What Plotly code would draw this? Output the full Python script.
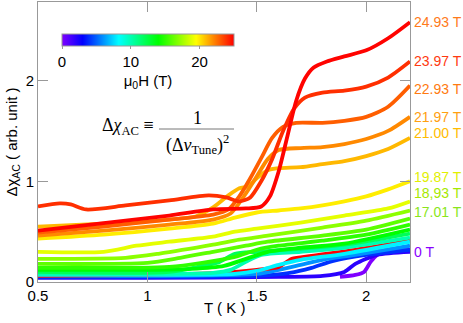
import plotly.graph_objects as go
from plotly.colors import sample_colorscale

# field of each curve (T) and its data
fields = [0.0, 2.0, 4.0, 6.0, 25.0, 8.0, 10.0, 12.0, 14.0, 15.0, 16.0,
          17.01, 18.93, 19.87, 21.00, 21.97, 22.93, 23.97, 24.93]

t_00 = [1.88, 1.95, 1.99, 2.02, 2.05, 2.10, 2.20]
x_00 = [0.05, 0.07, 0.10, 0.20, 0.27, 0.31, 0.32]
t_02 = [0.5, 1.0, 1.6, 1.8, 1.9, 1.95, 2.05, 2.2]
x_02 = [0.04, 0.04, 0.05, 0.06, 0.10, 0.18, 0.27, 0.30]
t_04 = [0.5, 1.0, 1.5, 1.65, 1.75, 1.85, 2.0, 2.2]
x_04 = [0.05, 0.05, 0.06, 0.09, 0.14, 0.21, 0.27, 0.32]
t_06 = [0.5, 1.0, 1.5, 1.6, 1.7, 1.8, 1.95, 2.2]
x_06 = [0.06, 0.06, 0.08, 0.12, 0.17, 0.22, 0.27, 0.36]
t_red = [0.5, 1.0, 1.33, 1.5, 1.6, 1.66, 1.75, 1.95, 2.2]
x_red = [0.06, 0.07, 0.09, 0.12, 0.15, 0.23, 0.26, 0.32, 0.41]
t_08 = [0.5, 1.0, 1.4, 1.5, 1.6, 1.7, 1.9, 2.2]
x_08 = [0.07, 0.07, 0.08, 0.11, 0.17, 0.22, 0.28, 0.40]
t_10 = [0.5, 1.0, 1.3, 1.38, 1.45, 1.52, 1.7, 1.9, 2.2]
x_10 = [0.08, 0.08, 0.09, 0.12, 0.20, 0.27, 0.30, 0.34, 0.44]
t_12 = [0.5, 1.1, 1.25, 1.33, 1.4, 1.5, 1.7, 1.9, 2.2]
x_12 = [0.10, 0.10, 0.16, 0.20, 0.28, 0.30, 0.33, 0.37, 0.48]
t_14 = [0.5, 1.0, 1.2, 1.35, 1.45, 1.55, 1.7, 1.9, 2.2]
x_14 = [0.12, 0.12, 0.13, 0.16, 0.23, 0.30, 0.34, 0.38, 0.52]
t_15 = [0.5, 1.1, 1.25, 1.4, 1.5, 1.6, 1.8, 2.0, 2.2]
x_15 = [0.14, 0.15, 0.19, 0.25, 0.32, 0.36, 0.41, 0.47, 0.57]
t_16 = [0.5, 1.0, 1.15, 1.3, 1.45, 1.55, 1.8, 2.0, 2.2]
x_16 = [0.18, 0.19, 0.24, 0.30, 0.36, 0.40, 0.46, 0.52, 0.63]
t_1701 = [0.5, 0.9, 1.05, 1.3, 1.42, 1.55, 1.8, 2.0, 2.2]
x_1701 = [0.23, 0.24, 0.28, 0.37, 0.42, 0.46, 0.54, 0.61, 0.71]
t_1893 = [0.5, 0.8, 0.95, 1.1, 1.3, 1.4, 1.5, 1.7, 1.9, 2.1, 2.2]
x_1893 = [0.30, 0.30, 0.36, 0.40, 0.45, 0.50, 0.53, 0.59, 0.66, 0.73, 0.80]
t_1987 = [0.5, 0.8, 1.1, 1.3, 1.4, 1.5, 1.6, 1.7, 1.8, 1.9, 2.0, 2.1, 2.2]
x_1987 = [0.43, 0.47, 0.53, 0.58, 0.64, 0.69, 0.71, 0.73, 0.76, 0.80, 0.85, 0.92, 1.00]
t_2100 = [0.5, 0.8, 1.1, 1.22, 1.3, 1.37, 1.42, 1.46, 1.5, 1.55, 1.6, 1.7, 1.8, 1.9, 2.0, 2.1, 2.2]
x_2100 = [0.55, 0.58, 0.62, 0.65, 0.74, 0.86, 0.93, 0.95, 1.03, 1.11, 1.13, 1.14, 1.17, 1.20, 1.25, 1.32, 1.43]
t_2197 = [0.5, 0.8, 1.1, 1.3, 1.38, 1.45, 1.5, 1.55, 1.6, 1.7, 1.8, 1.9, 2.0, 2.1, 2.2]
x_2197 = [0.46, 0.51, 0.57, 0.62, 0.68, 0.88, 1.05, 1.22, 1.31, 1.33, 1.34, 1.37, 1.42, 1.50, 1.64]
t_2293 = [0.5, 0.8, 1.1, 1.3, 1.37, 1.42, 1.47, 1.52, 1.57, 1.62, 1.68, 1.8, 1.9, 2.0, 2.1, 2.2]
x_2293 = [0.49, 0.55, 0.62, 0.67, 0.72, 0.85, 1.03, 1.23, 1.43, 1.54, 1.58, 1.58, 1.60, 1.64, 1.74, 1.95]
t_2397 = [0.5, 0.6, 0.65, 0.72, 0.9, 1.1, 1.28, 1.36, 1.42, 1.47, 1.52, 1.57, 1.62, 1.67, 1.72, 1.8, 1.9, 2.0, 2.1, 2.2]
x_2397 = [0.75, 0.78, 0.77, 0.72, 0.76, 0.81, 0.86, 0.84, 0.80, 0.84, 1.00, 1.22, 1.50, 1.72, 1.83, 1.88, 1.90, 1.94, 2.03, 2.19]
t_2493 = [0.5, 0.7, 0.9, 1.1, 1.3, 1.45, 1.52, 1.56, 1.6, 1.64, 1.68, 1.72, 1.76, 1.82, 1.9, 2.0, 2.1, 2.2]
x_2493 = [0.51, 0.56, 0.61, 0.66, 0.72, 0.73, 0.75, 0.85, 1.10, 1.45, 1.80, 2.02, 2.13, 2.19, 2.24, 2.30, 2.42, 2.58]

temps = [t_00, t_02, t_04, t_06, t_red, t_08, t_10, t_12, t_14, t_15, t_16,
         t_1701, t_1893, t_1987, t_2100, t_2197, t_2293, t_2397, t_2493]
chis = [x_00, x_02, x_04, x_06, x_red, x_08, x_10, x_12, x_14, x_15, x_16,
        x_1701, x_1893, x_1987, x_2100, x_2197, x_2293, x_2397, x_2493]

label_text = ["24.93 T", "23.97 T", "22.93 T", "21.97 T", "21.00 T",
              "19.87 T", "18,93 T", "17.01 T", "0 T"]
label_color = ["#ff7a1a", "#ff3a10", "#ff7a10", "#ffa010", "#ffbc00",
               "#e2ef00", "#a6e800", "#8ae61a", "#8a00ff"]
label_py = [22, 61, 89, 117, 133, 177, 193, 212, 252]

rainbow = [[0.0, "#7f00ff"], [0.12, "#0000ff"], [0.33, "#00ffff"],
           [0.56, "#00ff00"], [0.78, "#ffff00"], [0.88, "#ff8800"],
           [1.0, "#ff0000"]]

W, H = 463, 323
L, R, T, B = 38, 53, 2, 41


def px(x):
    return (x - L) / (W - L - R)


def py(y):
    return (H - B - y) / (H - T - B)


fig = go.Figure()

for f, tt, xx in zip(fields, temps, chis):
    col = sample_colorscale(rainbow, [f / 25.0])[0]
    fig.add_trace(go.Scatter(
        x=tt, y=xx, mode="lines",
        line=dict(color=col, width=3.8, shape="spline", smoothing=0.7),
        showlegend=False, hoverinfo="skip"
    ))

# colour bar only
fig.add_trace(go.Scatter(
    x=[None, None], y=[None, None], mode="markers",
    marker=dict(
        color=[0, 25], colorscale=rainbow, cmin=0, cmax=25, showscale=True,
        colorbar=dict(
            orientation="h", x=px(148), xanchor="center", y=py(34),
            yanchor="top", len=172 / (W - L - R), lenmode="fraction",
            xpad=0, ypad=0,
            thickness=12, outlinewidth=1, outlinecolor="#999",
            tickvals=[0, 10, 20], ticks="outside", ticklen=3,
            tickcolor="#999",
            tickfont=dict(size=15, color="black"),
            title=dict(text="μ<sub>0</sub>H (T)", side="bottom",
                       font=dict(size=15, color="black"))
        )
    ),
    showlegend=False, hoverinfo="skip"
))

for txt, c, yy in zip(label_text, label_color, label_py):
    fig.add_annotation(x=px(412), y=py(yy), xref="paper", yref="paper",
                       text=txt, showarrow=False, xanchor="left",
                       yanchor="middle", font=dict(size=14, color=c))

mfont = dict(family="Liberation Serif", size=18, color="black")
fig.add_annotation(x=px(156), y=py(127), xref="paper", yref="paper",
                   text="Δ<i>χ</i><sub>AC</sub> ≡", showarrow=False,
                   xanchor="right", yanchor="middle", font=mfont)
fig.add_annotation(x=px(197), y=py(118), xref="paper", yref="paper",
                   text="1", showarrow=False, xanchor="center",
                   yanchor="middle", font=mfont)
fig.add_annotation(x=px(197), y=py(144), xref="paper", yref="paper",
                   text="(Δ<i>ν</i><sub>Tune</sub>)<sup>2</sup>",
                   showarrow=False, xanchor="center", yanchor="middle",
                   font=mfont)
fig.add_shape(type="line", xref="paper", yref="paper",
              x0=px(159), x1=px(234), y0=py(129), y1=py(129),
              line=dict(color="#777", width=1))

# x axis title placed by hand
fig.add_annotation(x=px(224), y=py(307), xref="paper", yref="paper",
                   text="T ( K )", showarrow=False, xanchor="center",
                   yanchor="middle", font=dict(size=15, color="black"))

axis_style = dict(
    showgrid=False, zeroline=False, showline=True, linecolor="#999",
    linewidth=1, mirror="ticks", ticks="inside", ticklen=10,
    tickcolor="#999", tickfont=dict(size=15, color="black")
)

fig.update_layout(
    width=W, height=H,
    margin=dict(l=L, r=R, t=T, b=B, autoexpand=False),
    paper_bgcolor="white", plot_bgcolor="white",
    font=dict(family="Liberation Sans", color="black"),
    xaxis=dict(range=[0.5, 2.2], tickvals=[0.5, 1, 1.5, 2],
               ticktext=["0.5", "1", "1.5", "2"], **axis_style),
    yaxis=dict(range=[0, 2.78], tickvals=[0, 1, 2],
               title=dict(text="Δχ<sub>AC</sub> ( arb. unit )",
                          font=dict(size=15), standoff=4),
               **axis_style),
)

# page body has a default margin; drop it so the figure sits at the corner
fig.write_html("out.html", config={"displayModeBar": False},
               post_script="document.body.style.margin='0';")
